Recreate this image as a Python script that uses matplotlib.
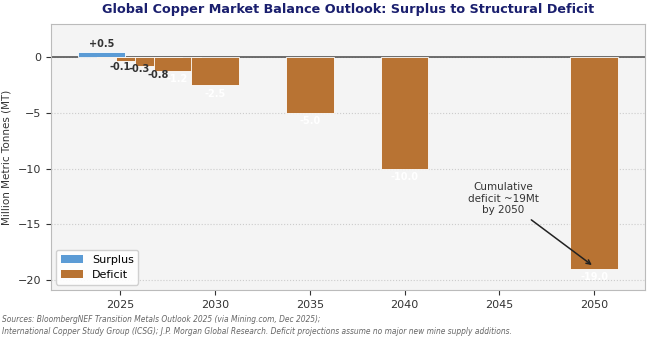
import numpy as np
import matplotlib.pyplot as plt
from matplotlib.patches import Patch

# Marktbalanse kobber (Mt), positiv = overskudd, negativ = underskudd
years = [2024, 2025, 2026, 2027, 2028, 2030, 2035, 2040, 2050]
balance = [0.5, -0.1, -0.3, -0.8, -1.2, -2.5, -5.0, -10.0, -19.0]

surplus_color = "#5b9bd5"
deficit_color = "#b87333"

fig = plt.figure(figsize=(6.5, 3.37), dpi=100)
ax = fig.add_axes([0.078, 0.139, 0.914, 0.79])
ax.set_facecolor("#f4f4f4")

colors = [surplus_color if v > 0 else deficit_color for v in balance]
ax.bar(years, balance, width=2.5, color=colors, edgecolor="white", linewidth=0.6, zorder=3)

# Verdietiketter
for x, v in zip(years, balance):
    if v > 0:
        ax.text(x, v + 0.25, f"+{v:.1f}", ha="center", va="bottom",
                fontsize=7, fontweight="bold", color="#333333", zorder=4)
    else:
        col = "white" if abs(v) > 1 else "#333333"
        ax.text(x, v - 0.3, f"{v:.1f}", ha="center", va="top",
                fontsize=7, fontweight="bold", color=col, zorder=4)

ax.axhline(0, color="#555555", linewidth=1.2, zorder=2)

ax.annotate("Cumulative\ndeficit ~19Mt\nby 2050", xy=(2050, -18.8), xytext=(2045.2, -12.7),
            ha="center", va="center", fontsize=7.5, color="#333333",
            arrowprops=dict(arrowstyle="->", color="#222222", lw=1.1), zorder=5)

ax.set_ylim(-20.9, 3)
ax.set_xticks([2025, 2030, 2035, 2040, 2045, 2050])
ax.set_yticks([0, -5, -10, -15, -20])
ax.tick_params(labelsize=8, colors="#333333")
ax.yaxis.grid(True, linestyle=":", color="#cccccc", linewidth=0.8, zorder=0)
ax.set_axisbelow(True)
for s in ax.spines.values():
    s.set_color("#bbbbbb")

ax.set_ylabel("Million Metric Tonnes (MT)", fontsize=7.5, color="#333333", labelpad=4)
ax.set_title("Global Copper Market Balance Outlook: Surplus to Structural Deficit",
             fontsize=9.2, fontweight="bold", color="#1a1f6e", pad=8)

handles = [Patch(facecolor=surplus_color, label="Surplus"),
           Patch(facecolor=deficit_color, label="Deficit")]
ax.legend(handles=handles, loc="lower left", fontsize=8, framealpha=0.9)

fig.text(0.003, 0.064, "Sources: BloombergNEF Transition Metals Outlook 2025 (via Mining.com, Dec 2025);\n"
         "International Copper Study Group (ICSG); J.P. Morgan Global Research. "
         "Deficit projections assume no major new mine supply additions.",
         fontsize=5.45, style="italic", color="#666666", va="top", linespacing=1.3)

fig.savefig("out.png", dpi=100)
